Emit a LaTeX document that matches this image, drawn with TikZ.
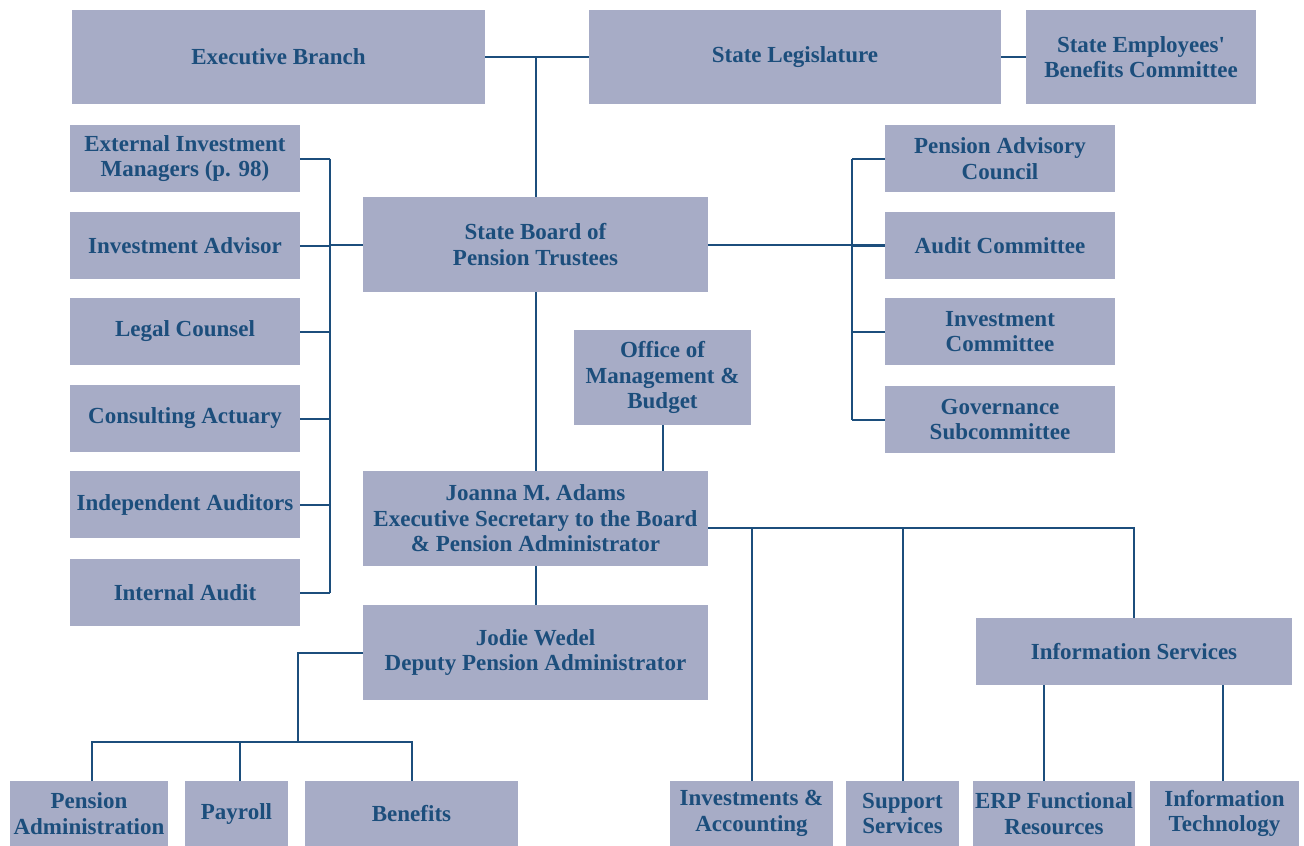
\documentclass[tikz,border=0pt]{standalone}
\usepackage{fontspec}
\setmainfont{Liberation Serif}
\usetikzlibrary{positioning}
\definecolor{boxfill}{RGB}{167,172,198}
\definecolor{navy}{RGB}{28,78,124}

\begin{document}
\begin{tikzpicture}[x=1pt,y=-1pt,
	unit/.style={fill=boxfill,text=navy,align=center,inner sep=0pt,font=\bfseries\fontsize{23}{25.5}\selectfont},
	link/.style={draw=navy,line width=2pt}]
\useasboundingbox (0,0) rectangle (1304,846);

% top row
\node[unit,minimum width=413,minimum height=94] (exec) at (278.5,57) {Executive Branch};
\node[unit,minimum width=412,minimum height=94] (legis) at (795,57) {State Legislature};
\node[unit,minimum width=230,minimum height=94] (sebc) at (1141,57) {State Employees\textquotesingle\\Benefits Committee};

\node[unit,minimum width=345,minimum height=95] (board) at (535.5,244.5) {State Board of\\Pension Trustees};

% left and right columns
\foreach \t/\y [count=\n] in {{External Investment\\Managers (p. 98)}/158.5,{Investment Advisor}/245.5,{Legal Counsel}/331.5,{Consulting Actuary}/418.5,{Independent Auditors}/504.5,{Internal Audit}/592.5}
	\node[unit,minimum width=230,minimum height=67] (L\n) at (185,\y) {\t};
\foreach \t/\y [count=\n] in {{Pension Advisory\\Council}/158.5,{Audit Committee}/245.5,{Investment\\Committee}/331.5,{Governance\\Subcommittee}/419.5}
	\node[unit,minimum width=230,minimum height=67] (R\n) at (1000,\y) {\t};

\node[unit,minimum width=177,minimum height=95] (omb) at (662.5,377.5) {Office of\\Management \&\\Budget};
\node[unit,minimum width=345,minimum height=95] (adams) at (535.5,518.5) {Joanna M. Adams\\Executive Secretary to the Board\\\& Pension Administrator};
\node[unit,minimum width=345,minimum height=95] (wedel) at (535.5,652.5) {Jodie Wedel\\Deputy Pension Administrator};
\node[unit,minimum width=316,minimum height=67] (infserv) at (1134,651.5) {Information Services};

% bottom row
\node[unit,minimum width=158,minimum height=65] (penadmin) at (89,813.5) {Pension\\Administration};
\node[unit,minimum width=103,minimum height=65] (payroll) at (236.5,813.5) {Payroll};
\node[unit,minimum width=213,minimum height=65] (benefits) at (411.5,813.5) {Benefits};
\node[unit,minimum width=163,minimum height=65] (invacc) at (751.5,813.5) {Investments \&\\Accounting};
\node[unit,minimum width=113,minimum height=65] (support) at (902.5,813.5) {Support\\Services};
\node[unit,minimum width=162,minimum height=65] (erp) at (1054,813.5) {ERP Functional\\Resources};
\node[unit,minimum width=149,minimum height=65] (infotech) at (1224.5,813.5) {Information\\Technology};

\coordinate (lbus) at (330,0);
\coordinate (rbus) at (852,0);
\coordinate (ahub) at ([yshift=-9.5pt]adams.east);
\coordinate (wbus) at (298,742);

% connectors
\draw[link] (exec) -- (legis) (legis) -- (sebc);
\draw[link] (board.north |- exec.east) -- (board.north);
\foreach \n in {1,...,6}
	\draw[link] (L\n.east) -- (L\n.east -| lbus);
\draw[link] (L1.east -| lbus) -- (L6.east -| lbus);
\draw[link] (board.west) -- (board.west -| lbus);
\foreach \n in {1,...,4}
	\draw[link] (R\n.west) -- (R\n.west -| rbus);
\draw[link] (R1.west -| rbus) -- (R4.west -| rbus);
\draw[link] (board.east) -- (board.east -| R2.west);
\draw[link] (board.south) -- (adams.north);
\draw[link] (omb.south) -- (omb.south |- adams.north);
\draw[link] (adams.south) -- (wedel.north);
\draw[link] (ahub) -| (infserv.north);
\draw[link] (invacc.north) -- (invacc.north |- ahub);
\draw[link] (support.north) -- (support.north |- ahub);
\draw[link] ([xshift=-10pt]erp.north) -- ([xshift=-10pt]erp.north |- infserv.south);
\draw[link] ([xshift=-2pt]infotech.north) -- ([xshift=-2pt]infotech.north |- infserv.south);
\draw[link] (wedel.west) -| (wbus);
\draw[link] ([xshift=3pt]penadmin.north) |- (benefits.north |- wbus) -- (benefits.north);
\draw[link] ([xshift=3pt]payroll.north) -- ([xshift=3pt]payroll.north |- wbus);
\end{tikzpicture}
\end{document}
